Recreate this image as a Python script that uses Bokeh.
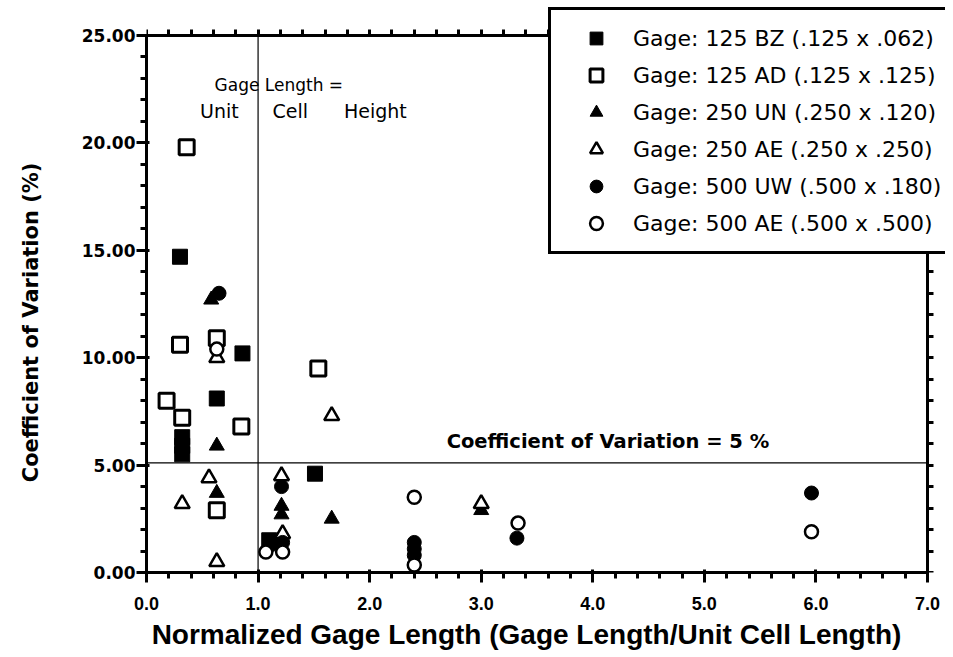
import numpy as np
from bokeh.plotting import figure
from bokeh.models import (Legend, LegendItem, LinearAxis, Label,
                          PrintfTickFormatter, Range1d, SingleIntervalTicker, FixedTicker)
from bokeh.embed import file_html
from bokeh.resources import INLINE

# ---- data ----
bz_x = [0.30, 0.32, 0.32, 0.32, 0.63, 0.86, 1.51, 1.10]
bz_y = [14.7, 6.3, 5.9, 5.5, 8.1, 10.2, 4.6, 1.5]

ad_x = [0.36, 0.30, 0.18, 0.32, 0.63, 0.85, 0.63, 1.54]
ad_y = [19.8, 10.6, 8.0, 7.2, 10.9, 6.8, 2.9, 9.5]

un_x = [0.58, 0.63, 0.63, 1.21, 1.21, 1.66, 3.00]
un_y = [12.7, 5.9, 3.7, 3.1, 2.7, 2.5, 2.9]

ae250_x = [0.32, 0.56, 0.63, 0.63, 1.66, 1.21, 1.22, 3.00]
ae250_y = [3.2, 4.4, 0.5, 10.0, 7.3, 4.5, 1.8, 3.2]

uw_x = [0.65, 1.21, 1.12, 1.22, 2.40, 2.40, 2.40, 3.32, 5.96]
uw_y = [13.0, 4.0, 1.3, 1.4, 1.4, 1.1, 0.8, 1.6, 3.7]

ae500_x = [0.63, 1.07, 1.22, 2.40, 2.40, 3.33, 5.96]
ae500_y = [10.4, 0.95, 0.95, 3.5, 0.35, 2.3, 1.9]

labels = ["Gage: 125 BZ (.125 x .062)",
          "Gage: 125 AD (.125 x .125)",
          "Gage: 250 UN (.250 x .120)",
          "Gage: 250 AE (.250 x .250)",
          "Gage: 500 UW (.500 x .180)",
          "Gage: 500 AE (.500 x .500)"]

X_MIN, X_MAX = 0.0, 7.0          # axis extent
Y_MIN, Y_MAX = 0.0, 25.0
unit_cell_line_x = 1.0
cov_line_y = 5.1

NBSP = "\u00a0"
x_title = "Normalized Gage Length (Gage Length/Unit Cell Length)" + NBSP * 5
y_title = "Coefficient of Variation (%)" + NBSP * 9

# view extends a little past the axes so the legend can overhang the corner
VIEW_X_MAX = 7.161
VIEW_Y_MAX = 26.35

# ---- figure ----
p = figure(width=953, height=657, output_backend="svg", toolbar_location=None,
           x_range=Range1d(X_MIN, VIEW_X_MAX), y_range=Range1d(Y_MIN, VIEW_Y_MAX),
           min_border_left=146, min_border_right=8,
           min_border_top=6, min_border_bottom=85,
           x_axis_label=x_title, y_axis_label=y_title)
p.outline_line_color = None
p.xgrid.visible = False
p.ygrid.visible = False
p.background_fill_color = "white"
p.border_fill_color = "white"

xa = p.xaxis[0]
ya = p.yaxis[0]
xa.ticker = SingleIntervalTicker(interval=1, num_minor_ticks=5)
ya.ticker = SingleIntervalTicker(interval=5, num_minor_ticks=5)
xa.bounds = (X_MIN, X_MAX)
ya.bounds = (Y_MIN, Y_MAX)
xa.formatter = PrintfTickFormatter(format="%.1f")
ya.formatter = PrintfTickFormatter(format="%.2f")

for ax in (xa, ya):
    ax.axis_line_width = 3
    ax.axis_line_color = "black"
    ax.major_tick_line_width = 3
    ax.minor_tick_line_width = 3
    ax.major_tick_out = 10
    ax.major_tick_in = 3
    ax.minor_tick_out = 6
    ax.minor_tick_in = 0
    ax.major_label_text_font_style = "bold"
    ax.axis_label_text_font_style = "bold"
    ax.axis_label_text_color = "black"
    ax.major_label_text_color = "black"

xa.major_label_text_font = "Liberation Sans"
xa.major_label_text_font_size = "18px"
xa.major_label_standoff = 14
xa.axis_label_text_font = "Liberation Sans"
xa.axis_label_text_font_size = "28px"
xa.axis_label_standoff = 6

ya.major_label_text_font = "DejaVu Sans"
ya.major_label_text_font_size = "17px"
ya.major_label_standoff = 1
ya.axis_label_text_font = "DejaVu Sans"
ya.axis_label_text_font_size = "21px"
ya.axis_label_standoff = 36

# top and right frame axes (ticks only)
top_ticks = np.round(np.arange(X_MIN, X_MAX + 0.001, 0.2), 2).tolist()
right_ticks = np.arange(Y_MIN, Y_MAX + 0.001, 1.0).tolist()
for loc, ticks, fixed, bnds in (("above", top_ticks, Y_MAX, (X_MIN, X_MAX)),
                                ("right", right_ticks, X_MAX, (Y_MIN, Y_MAX))):
    ax = LinearAxis(ticker=FixedTicker(ticks=[], minor_ticks=ticks),
                    fixed_location=fixed, bounds=bnds)
    ax.axis_line_width = 3
    ax.axis_line_color = "black"
    ax.minor_tick_line_width = 3
    ax.minor_tick_out = 6
    ax.minor_tick_in = 0
    ax.major_tick_out = 0
    ax.major_label_standoff = 0
    p.add_layout(ax, loc)

# ---- reference lines ----
p.segment(x0=[unit_cell_line_x], y0=[Y_MIN], x1=[unit_cell_line_x], y1=[Y_MAX],
          line_color="black", line_width=1.2)
p.segment(x0=[X_MIN], y0=[cov_line_y], x1=[X_MAX], y1=[cov_line_y],
          line_color="black", line_width=1.2)

# ---- annotations ----
def lab(x, y, t, size, bold=False):
    p.add_layout(Label(x=x, y=y, text=t, text_font="DejaVu Sans",
                       text_font_style="bold" if bold else "normal",
                       text_font_size=size, text_baseline="middle", text_color="black"))

lab(0.61, 22.7, "Gage Length =", "17px")
lab(0.48, 21.5, "Unit", "19px")
lab(1.13, 21.5, "Cell", "19px")
lab(1.77, 21.5, "Height", "19px")
lab(2.69, 6.1, "Coefficient of Variation = 5 %", "19.5px", bold=True)

# ---- data series ----
r1 = p.scatter(bz_x, bz_y, marker="square", size=15, fill_color="black", line_color="black")
r2 = p.scatter(ad_x, ad_y, marker="square", size=15, fill_color="white",
               line_color="black", line_width=3)
r3 = p.scatter(un_x, un_y, marker="triangle", size=15, fill_color="black", line_color="black")
r4 = p.scatter(ae250_x, ae250_y, marker="triangle", size=15, fill_color="white",
               line_color="black", line_width=2.5)
r5 = p.scatter(uw_x, uw_y, marker="circle", size=14, fill_color="black", line_color="black")
r6 = p.scatter(ae500_x, ae500_y, marker="circle", size=13, fill_color="white",
               line_color="black", line_width=2.5)

legend = Legend(items=[LegendItem(label=l, renderers=[r])
                       for l, r in zip(labels, [r1, r2, r3, r4, r5, r6])],
                location=(402, 318), padding=12, spacing=5, margin=0,
                label_height=32, glyph_height=32, glyph_width=66, label_standoff=4,
                border_line_color="black", border_line_width=3, border_line_alpha=1.0,
                label_text_font="DejaVu Sans", label_text_font_size="22px",
                label_text_color="black",
                background_fill_color="white", background_fill_alpha=1.0)
p.add_layout(legend)

open("out.html", "w").write(file_html(p, INLINE))
